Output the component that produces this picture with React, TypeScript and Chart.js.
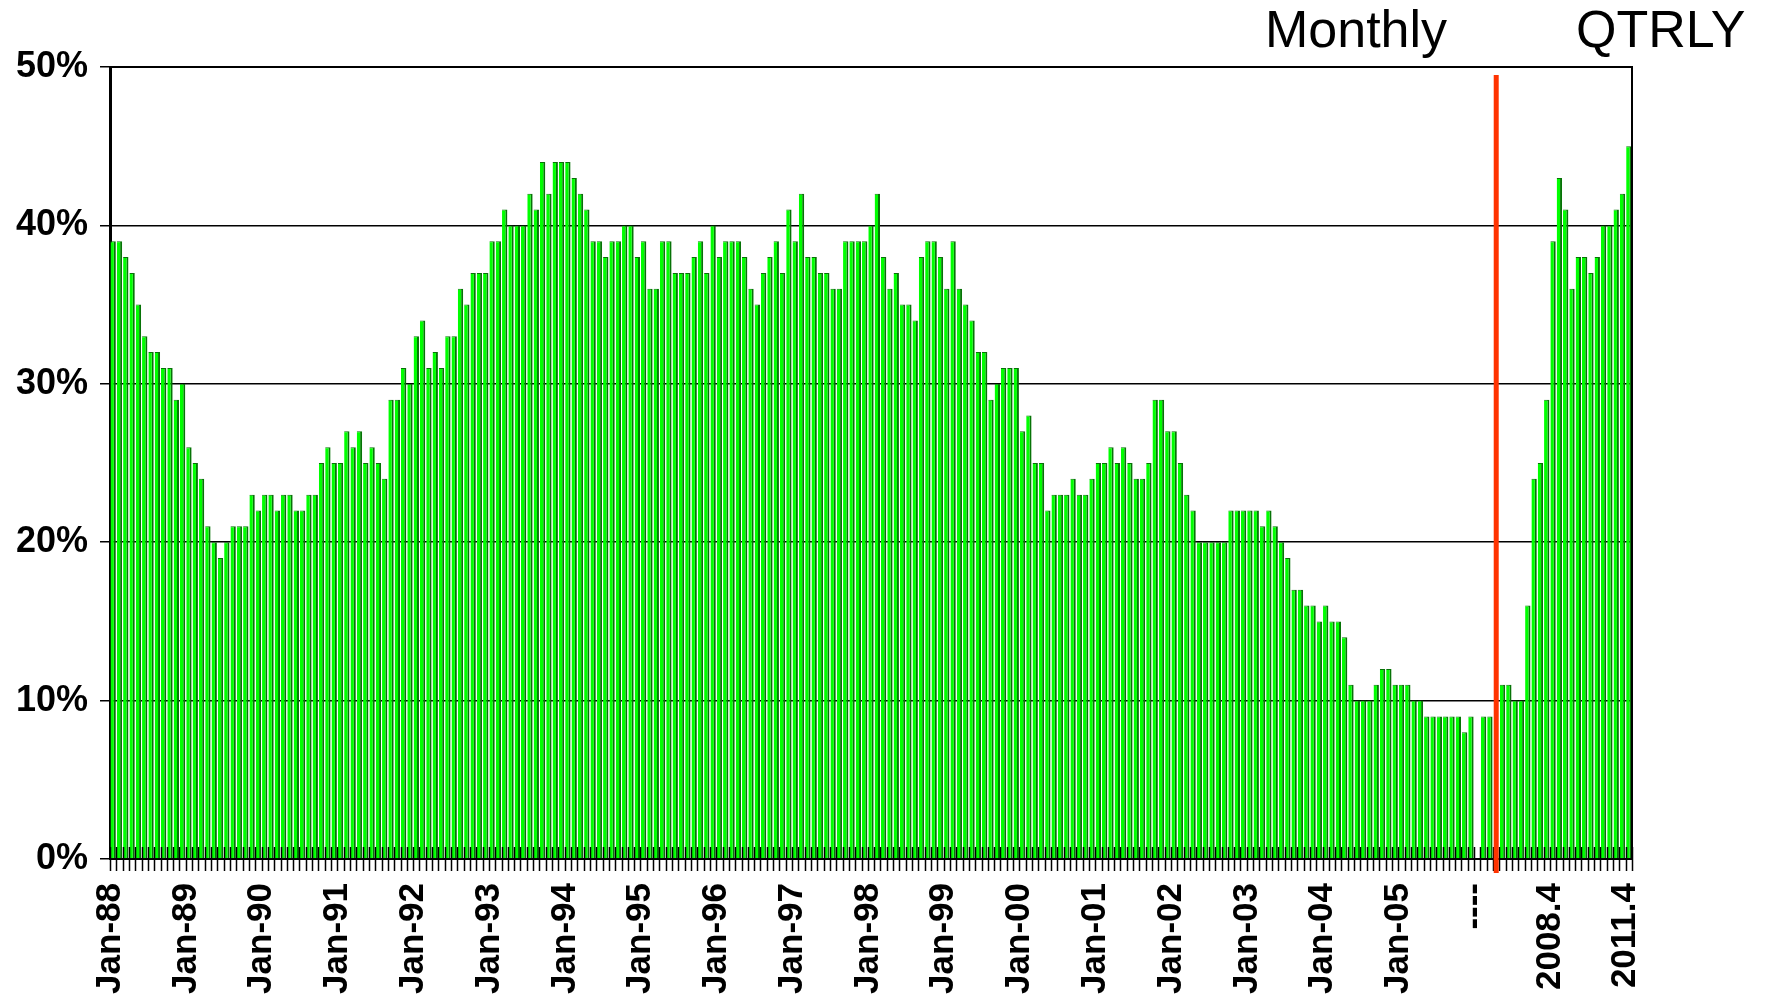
import React, { useEffect, useRef } from 'react';
import { Chart, registerables } from 'chart.js';

Chart.register(...registerables);

// ---- Monthly values (%), Jan-88 .. Dec-05 ----
const v1988 = [39, 39, 38, 37, 35, 33, 32, 32, 31, 31, 29, 30];
const v1989 = [26, 25, 24, 21, 20, 19, 20, 21, 21, 21, 23, 22];
const v1990 = [23, 23, 22, 23, 23, 22, 22, 23, 23, 25, 26, 25];
const v1991 = [25, 27, 26, 27, 25, 26, 25, 24, 29, 29, 31, 30];
const v1992 = [33, 34, 31, 32, 31, 33, 33, 36, 35, 37, 37, 37];
const v1993 = [39, 39, 41, 40, 40, 40, 42, 41, 44, 42, 44, 44];
const v1994 = [44, 43, 42, 41, 39, 39, 38, 39, 39, 40, 40, 38];
const v1995 = [39, 36, 36, 39, 39, 37, 37, 37, 38, 39, 37, 40];
const v1996 = [38, 39, 39, 39, 38, 36, 35, 37, 38, 39, 37, 41];
const v1997 = [39, 42, 38, 38, 37, 37, 36, 36, 39, 39, 39, 39];
const v1998 = [40, 42, 38, 36, 37, 35, 35, 34, 38, 39, 39, 38];
const v1999 = [36, 39, 36, 35, 34, 32, 32, 29, 30, 31, 31, 31];
const v2000 = [27, 28, 25, 25, 22, 23, 23, 23, 24, 23, 23, 24];
const v2001 = [25, 25, 26, 25, 26, 25, 24, 24, 25, 29, 29, 27];
const v2002 = [27, 25, 23, 22, 20, 20, 20, 20, 20, 22, 22, 22];
const v2003 = [22, 22, 21, 22, 21, 20, 19, 17, 17, 16, 16, 15];
const v2004 = [16, 15, 15, 14, 11, 10, 10, 10, 11, 12, 12, 11];
const v2005 = [11, 11, 10, 10, 9, 9, 9, 9, 9, 9, 8, 9];

const monthlyYears = [1988, 1989, 1990, 1991, 1992, 1993, 1994, 1995, 1996, 1997, 1998, 1999, 2000, 2001, 2002, 2003, 2004, 2005];
const monthlyByYear = [v1988, v1989, v1990, v1991, v1992, v1993, v1994, v1995, v1996, v1997, v1998, v1999, v2000, v2001, v2002, v2003, v2004, v2005];
const monthNames = ['Jan', 'Feb', 'Mar', 'Apr', 'May', 'Jun', 'Jul', 'Aug', 'Sep', 'Oct', 'Nov', 'Dec'];

// ---- Transition block (separator, two bars, divider slot) ----
const gapLabels = ['----', '2006.2', '2006.3', ''];
const gapValues = [null, 9, 9, null];

// ---- Quarterly values (%), 2006.4 .. 2011.4 ----
const quarterLabels = [
  '2006.4',
  '2007.1', '2007.2', '2007.3', '2007.4',
  '2008.1', '2008.2', '2008.3', '2008.4',
  '2009.1', '2009.2', '2009.3', '2009.4',
  '2010.1', '2010.2', '2010.3', '2010.4',
  '2011.1', '2011.2', '2011.3', '2011.4',
];
const quarterValues = [11, 11, 10, 10, 16, 24, 25, 29, 39, 43, 41, 36, 38, 38, 37, 38, 40, 40, 41, 42, 45];

const yTicks = [0, 10, 20, 30, 40, 50];
const labelEvery = 12;

const monthlyLabels: string[] = [];
monthlyYears.forEach((y) => {
  monthNames.forEach((m) => monthlyLabels.push(`${m}-${String(y % 100).padStart(2, '0')}`));
});
const monthlyValues: (number | null)[] = ([] as number[]).concat(...monthlyByYear);

const categories = [...monthlyLabels, ...gapLabels, ...quarterLabels];
const values = [...monthlyValues, ...gapValues, ...quarterValues];
const dividerIndex = monthlyLabels.length + gapLabels.length - 1;

const FONT = 'Liberation Sans, Arial, Helvetica, sans-serif';

const decorPlugin = {
  id: 'decor',
  afterDatasetsDraw(chart: any) {
    const { ctx, chartArea: a, scales } = chart;
    const x = scales.x;
    const n = categories.length;
    const slot = (a.right - a.left) / n;
    ctx.save();
    // crossing tick marks on the category axis
    ctx.strokeStyle = '#000';
    ctx.lineWidth = 1.5;
    ctx.beginPath();
    for (let i = 0; i <= n; i++) {
      const px = Math.round(a.left + i * slot) + 0.5;
      ctx.moveTo(px, a.bottom - 12);
      ctx.lineTo(px, a.bottom + 12);
    }
    ctx.stroke();
    // plot frame (top and right)
    ctx.lineWidth = 2;
    ctx.beginPath();
    ctx.moveTo(a.left, a.top);
    ctx.lineTo(a.right, a.top);
    ctx.lineTo(a.right, a.bottom);
    ctx.stroke();
    // red divider between monthly and quarterly data
    const rx = x.getPixelForValue(dividerIndex);
    ctx.strokeStyle = '#FF3300';
    ctx.lineWidth = 5;
    ctx.beginPath();
    ctx.moveTo(rx, a.top + 8);
    ctx.lineTo(rx, a.bottom + 14);
    ctx.stroke();
    ctx.restore();
  },
};

export default function App() {
  const canvasRef = useRef<HTMLCanvasElement | null>(null);

  useEffect(() => {
    if (!canvasRef.current) return;
    const chart = new Chart(canvasRef.current, {
      type: 'bar',
      data: {
        labels: categories,
        datasets: [
          {
            data: values,
            backgroundColor: '#00FF00',
            borderColor: '#077307',
            borderWidth: { top: 1, right: 2, left: 0, bottom: 0 },
            borderSkipped: 'start',
            barPercentage: 0.85,
            categoryPercentage: 1.0,
          },
        ],
      },
      options: {
        animation: false,
        responsive: true,
        maintainAspectRatio: false,
        layout: { padding: { top: 67, right: 138, left: 0, bottom: 0 } },
        plugins: {
          legend: { display: false },
          tooltip: { enabled: false },
        },
        scales: {
          x: {
            type: 'category',
            grid: { display: false, drawTicks: false },
            border: { display: true, color: '#000', width: 2 },
            afterFit: (scale: any) => {
              scale.height = 140;
            },
            ticks: {
              autoSkip: false,
              minRotation: 90,
              maxRotation: 90,
              padding: 24,
              labelOffset: -3,
              color: '#000',
              font: { family: FONT, size: 35, weight: 'bold' },
              callback: (_v: any, i: number) => (i % labelEvery === 0 ? categories[i] : ''),
            },
          },
          y: {
            min: yTicks[0],
            max: yTicks[yTicks.length - 1],
            afterFit: (scale: any) => {
              scale.width = 110;
            },
            afterBuildTicks: (scale: any) => {
              scale.ticks = yTicks.map((v) => ({ value: v }));
            },
            grid: { color: '#000', lineWidth: 1.5, drawTicks: true, tickLength: 10, tickColor: '#000' },
            border: { display: true, color: '#000', width: 3 },
            ticks: {
              padding: 12,
              color: '#000',
              font: { family: FONT, size: 36, weight: 'bold' },
              callback: (v: any) => `${v}%`,
            },
          },
        },
      },
      plugins: [decorPlugin],
    });
    return () => chart.destroy();
  }, []);

  const titleStyle: React.CSSProperties = {
    position: 'absolute',
    top: 3,
    fontFamily: FONT,
    fontSize: 52,
    lineHeight: '52px',
    color: '#000',
    whiteSpace: 'nowrap',
  };

  return (
    <div style={{ position: 'absolute', left: 0, top: 0, width: 1770, height: 999, background: '#fff', overflow: 'hidden' }}>
      <canvas ref={canvasRef} />
      <div style={{ ...titleStyle, left: 1265 }}>Monthly</div>
      <div style={{ ...titleStyle, left: 1576 }}>QTRLY</div>
    </div>
  );
}
